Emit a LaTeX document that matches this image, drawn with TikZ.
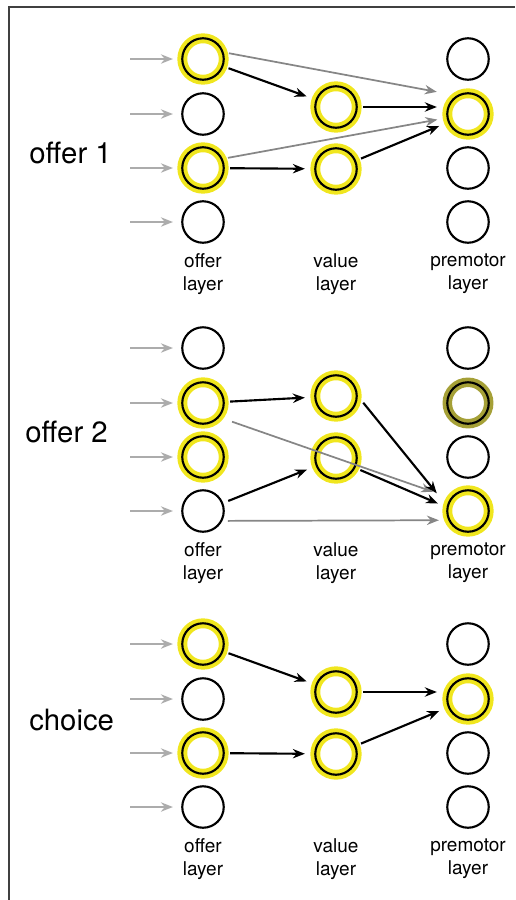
\documentclass[tikz,border=0pt]{standalone}
\usepackage{fontspec}
\setmainfont{TeX Gyre Heros}
\usepackage{tikz}
\usetikzlibrary{positioning,arrows.meta}

\definecolor{glow}{RGB}{240,230,30}
\definecolor{halfon}{RGB}{165,160,55}

\begin{document}
\begin{tikzpicture}[
  x=0.75pt, y=-0.75pt,
  cell/.style={circle, draw, line width=1.6pt, minimum size=31.1pt, inner sep=0pt},
  on/.style={cell, preaction={draw=glow, line width=7.4pt}},
  half/.style={cell, preaction={draw=halfon, line width=7.1pt}},
  link/.style={-{Stealth[length=9pt,width=7pt]}, line width=1.6pt, shorten <=4pt, shorten >=7pt},
  faint/.style={link, draw=gray!95, line width=1.3pt},
  feed/.style={-{Stealth[length=9pt,width=7pt]}, draw=gray!65, line width=1.4pt, shorten >=6.2pt},
  lab/.style={align=center, inner sep=0pt, font=\fontsize{14.25}{17.25}\selectfont},
  title/.style={inner sep=0pt, font=\fontsize{22}{26}\selectfont}
]
\useasboundingbox (0,0) rectangle (515,900);

% frame
\draw[black!75, line width=1.1pt] (9,900) -- (9,7) -- (515,7);

% offer 1
\node[on]   (o11) at (203,59)  {};
\node[cell] (o12) at (203,114) {};
\node[on]   (o13) at (203,168) {};
\node[cell] (o14) at (203,222) {};
\node[on]   (v11) at (336,107) {};
\node[on]   (v12) at (336,169) {};
\node[cell] (m11) at (468,59)  {};
\node[on]   (m12) at (468,114) {};
\node[cell] (m13) at (468,168) {};
\node[cell] (m14) at (468,222) {};
\node[title, anchor=base west] (n1) at (29,163) {offer 1};
\node[lab, below=7pt of o14] (lo1) {offer\\layer};
\node[lab] (lv1) at (lo1 -| v12) {value\\layer};
\node[lab, below=7pt of m14] (lm1) {premotor\\layer};

\draw[faint, shorten >=15pt] (o11.18) -- (m12.122);
\draw[link] (o11) -- (v11);
\draw[link] (v11) -- (v11 -| m12.west);
\draw[faint] (o13.25) -- (m12);
\draw[link] (o13) -- (v12);
\draw[link] (v12) -- (m12);

% offer 2
\node[cell] (o21) at (203,348) {};
\node[on]   (o22) at (203,403) {};
\node[on]   (o23) at (203,457) {};
\node[cell] (o24) at (203,511) {};
\node[on]   (v21) at (336,396) {};
\node[on]   (v22) at (336,458) {};
\node[cell] (m21) at (468,348) {};
\node[half] (m22) at (468,403) {};
\node[cell] (m23) at (468,457) {};
\node[on]   (m24) at (468,511) {};
\node[title, anchor=base west] (n2) at (25,442) {offer 2};
\node[lab, below=7pt of o24] (lo2) {offer\\layer};
\node[lab] (lv2) at (lo2 -| v22) {value\\layer};
\node[lab, below=7pt of m24] (lm2) {premotor\\layer};

\draw[link] (o22) -- (v21);
\draw[faint, shorten <=10pt, shorten >=14pt] (o22.-41) -- (m24.143);
\draw[link, shorten <=6.5pt, shorten >=12pt] (v21.east) -- (m24.166);
\draw[link] (v22.-27) -- (m24.170);
\draw[link] (o24) -- (v22);
\draw[faint] (o24.-27) -- (m24.-155);

% choice
\node[on]   (o31) at (203,644) {};
\node[cell] (o32) at (203,699) {};
\node[on]   (o33) at (203,753) {};
\node[cell] (o34) at (203,807) {};
\node[on]   (v31) at (336,692) {};
\node[on]   (v32) at (336,754) {};
\node[cell] (m31) at (468,644) {};
\node[on]   (m32) at (468,699) {};
\node[cell] (m33) at (468,753) {};
\node[cell] (m34) at (468,807) {};
\node[title, anchor=base west] (n3) at (29,730) {choice};
\node[lab, below=7pt of o34] (lo3) {offer\\layer};
\node[lab] (lv3) at (lo3 -| v32) {value\\layer};
\node[lab, below=7pt of m34] (lm3) {premotor\\layer};

\draw[link] (o31) -- (v31);
\draw[link] (o33) -- (v32);
\draw[link] (v31) -- (v31 -| m32.west);
\draw[link] (v32) -- (m32);

% inputs to the offer layers
\foreach \n in {o11,o12,o13,o14,o21,o22,o23,o24,o31,o32,o33,o34}
  \draw[feed] ([xshift=-38.4pt]\n.west) -- (\n.west);

\end{tikzpicture}
\end{document}
